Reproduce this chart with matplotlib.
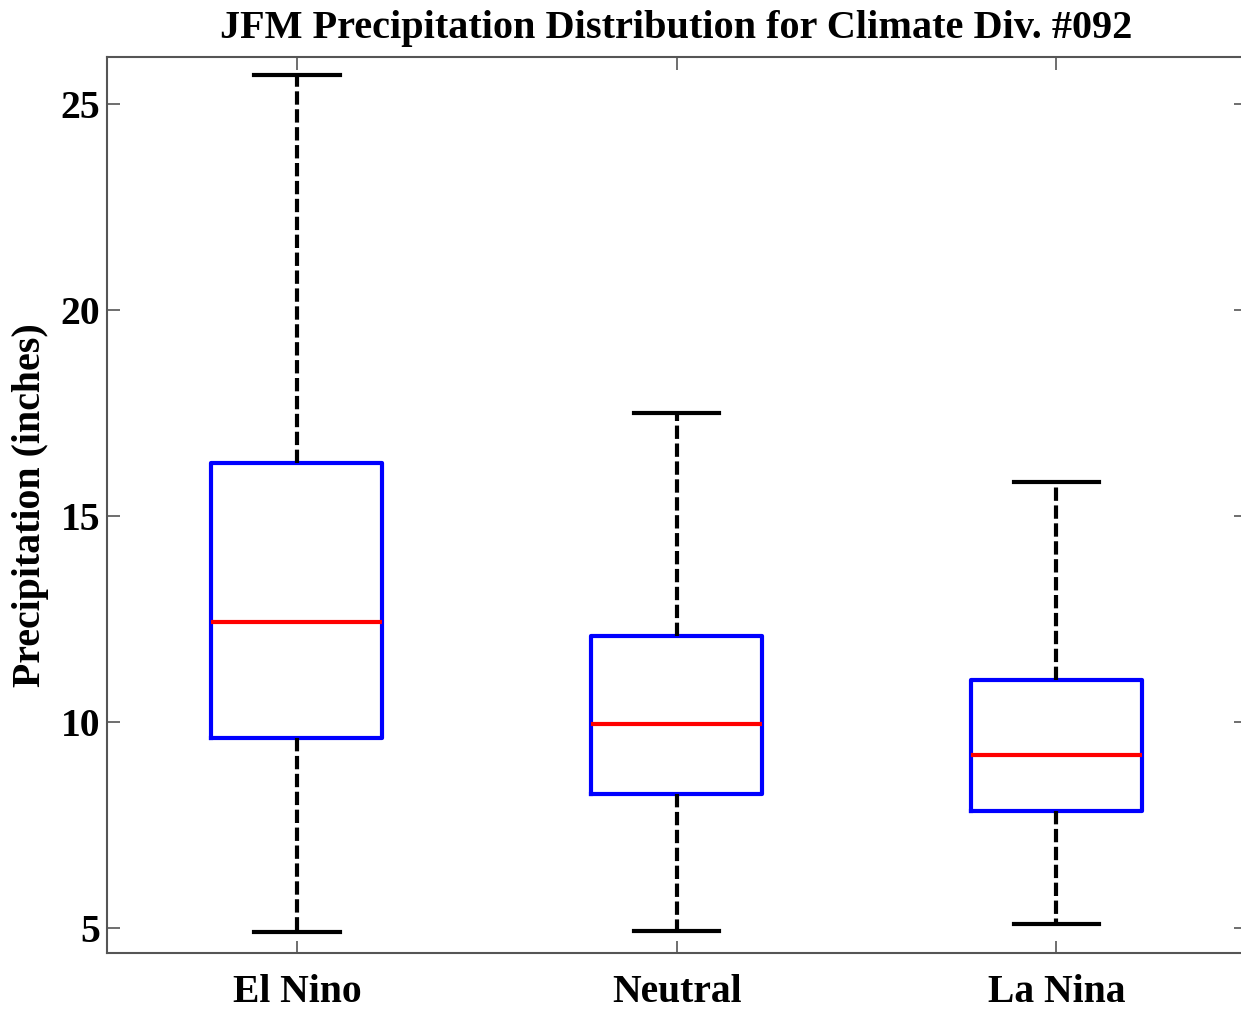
import matplotlib
matplotlib.use("Agg")
import matplotlib.pyplot as plt

categories = ["El Nino", "Neutral", "La Nina"]
whisker_low = [4.90, 4.93, 5.10]
q1 = [9.61, 8.25, 7.84]
median = [12.43, 9.95, 9.20]
q3 = [16.29, 12.09, 11.02]
whisker_high = [25.70, 17.50, 15.83]
yticks = [5, 10, 15, 20, 25]

plt.rcParams['font.family'] = ['Liberation Serif', 'DejaVu Serif']
plt.rcParams['font.weight'] = 'bold'

fig = plt.figure(figsize=(12.41, 10.10), dpi=100)
ax = fig.add_axes([0.0862, 0.0564, 0.918, 0.8872])

stats = []
for i, name in enumerate(categories):
    stats.append({
        "label": name,
        "whislo": whisker_low[i],
        "q1": q1[i],
        "med": median[i],
        "q3": q3[i],
        "whishi": whisker_high[i],
        "fliers": [],
    })

lw = 3.0
ax.bxp(stats, positions=[1, 2, 3], widths=0.45, showfliers=False,
       boxprops=dict(color='#0000ff', linewidth=lw),
       medianprops=dict(color='#ff0000', linewidth=lw),
       whiskerprops=dict(color='black', linewidth=lw, linestyle=(0, (3.2, 1.1))),
       capprops=dict(color='black', linewidth=lw),
       capwidths=0.225)

ax.set_xlim(0.5, 3.5)
ax.set_ylim(4.39, 26.14)
ax.set_yticks(yticks)
ax.set_xticks([1, 2, 3])
ax.set_xticklabels(categories)

for s in ax.spines.values():
    s.set_color('#555555')
    s.set_linewidth(1.5)
ax.tick_params(direction='in', length=9, width=1.2, color='#555555',
               top=True, right=True, labelsize=28.5)
ax.tick_params(axis='x', pad=15)
ax.tick_params(axis='y', pad=5)
for lab in ax.get_xticklabels() + ax.get_yticklabels():
    lab.set_fontweight('bold')

ax.set_title("JFM Precipitation Distribution for Climate Div. #092",
             fontsize=29, fontweight='bold', pad=14)
ax.set_ylabel("Precipitation (inches)", fontsize=28.7, fontweight='bold', labelpad=8)

fig.savefig("out.png", dpi=100)
